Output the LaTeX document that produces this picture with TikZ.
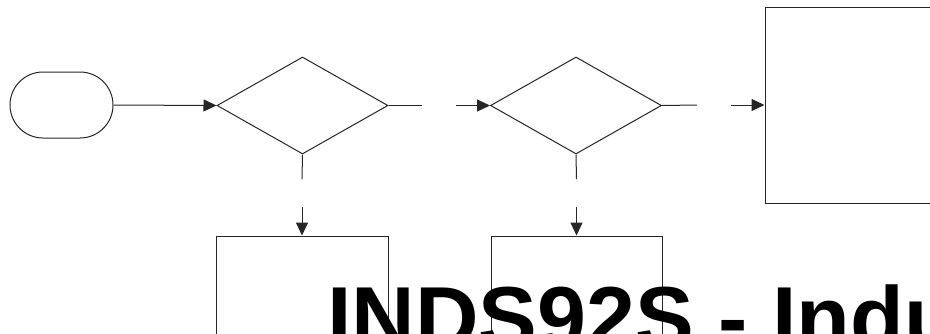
\documentclass[tikz,border=0pt]{standalone}
\usepackage{fontspec}
\setmainfont{Liberation Sans}
\usetikzlibrary{shapes.geometric,arrows.meta}
\begin{document}
\begin{tikzpicture}[x=1pt,y=-1pt,
  ln/.style={line width=1pt,draw=black!85},
  arr/.style={ln,-{Triangle[length=13pt,width=12pt]}},
  decision/.style={shape=diamond,ln,inner sep=0pt,minimum width=171pt,minimum height=97pt,shape aspect=1.763},
  procbox/.style={shape=rectangle,ln,inner sep=0pt},
  terminal/.style={shape=rectangle,ln,inner sep=0pt,rounded corners=33pt,minimum width=103pt,minimum height=66pt}]
\useasboundingbox (0,0) rectangle (930,333);
\node[terminal] (t) at (61.5,105) {};
\node[decision] (d1) at (302.5,105.5) {};
\node[decision] (d2) at (576,105.5) {};
\node[procbox,minimum width=172pt,minimum height=196pt] (b3) at (851,105) {};
\node[procbox,minimum width=172pt,minimum height=200pt] (b1) at (302,336) {};
\node[procbox,minimum width=171pt,minimum height=200pt] (b2) at (576.5,336) {};
\coordinate (e1) at (422,105.5);
\coordinate (s1) at (456,105.5);
\coordinate (e2) at (697,105);
\coordinate (s2) at (731,105);
\coordinate (v1e) at (302,179);
\coordinate (v1s) at (302,207);
\coordinate (v2e) at (576.5,179);
\coordinate (v2s) at (576.5,207);
\draw[arr] (t.east) -- (d1.west);
\draw[ln] (d1.east) -- (e1);
\draw[arr] (s1) -- (d2.west);
\draw[ln] (d2.east) -- (e2);
\draw[arr] (s2) -- (b3.west);
\draw[ln] (d1.south) -- (v1e);
\draw[arr] (v1s) -- (b1.north);
\draw[ln] (d2.south) -- (v2e);
\draw[arr] (v2s) -- (b2.north);
\node[anchor=base west,inner sep=0pt,font=\fontsize{88}{100}\selectfont\bfseries] (title) at (327,348) {INDS92S - Indu};
\end{tikzpicture}
\end{document}
